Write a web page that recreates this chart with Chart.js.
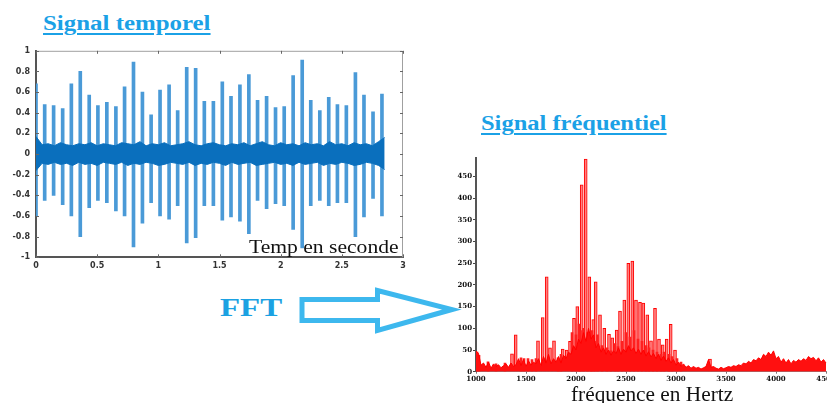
<!DOCTYPE html>
<html>
<head>
<meta charset="utf-8">
<script src="https://cdn.jsdelivr.net/npm/chart.js@4.4.1/dist/chart.umd.min.js"></script>
<style>
  body { margin: 0; width: 827px; height: 403px; overflow: hidden; background: #fff; position: relative; }
  canvas { position: absolute; }
  .txt { position: absolute; white-space: nowrap; transform-origin: 0 0; line-height: 1; }
  .titre { font: bold 20px "Liberation Serif", serif; color: #1ba1e6; text-decoration: underline;
           text-decoration-thickness: 2px; text-underline-offset: 3px; }
  .legende { font: 19px "Liberation Serif", serif; color: #111; }
  #fft { font: bold 26px "Liberation Serif", serif; color: #1ba1e2; }
</style>
</head>
<body>
<div class="txt titre" id="titreTemps" style="left:43px;top:12px">Signal temporel</div>
<div class="txt titre" id="titreFreq" style="left:481px;top:112px">Signal fréquentiel</div>
<div class="txt" id="fft" style="left:220px;top:293px">FFT</div>

<canvas id="graphTemps" width="415" height="240" style="left:0;top:40px"></canvas>
<canvas id="graphFreq" width="400" height="263" style="left:440px;top:140px"></canvas>

<div class="txt legende" id="legTemps" style="left:249px;top:236px">Temp en seconde</div>
<div class="txt legende" id="legFreq" style="left:571px;top:383px;font-size:20px">fréquence en Hertz</div>

<svg width="827" height="403" style="position:absolute;left:0;top:0">
  <polygon points="302,299.5 377.5,299.5 377.5,290.5 452,309.5 377.5,330.5 377.5,320.5 302,320.5"
           fill="#fff" stroke="#3db8ee" stroke-width="5" stroke-linejoin="miter"/>
</svg>

<script>
// --- signal temporel : pics (s, amplitude haute, amplitude basse)
const picsT = [0, 0.071, 0.144, 0.218, 0.289, 0.362, 0.435, 0.506, 0.579, 0.653,
  0.724, 0.797, 0.870, 0.941, 1.014, 1.088, 1.158, 1.232, 1.305, 1.376,
  1.450, 1.523, 1.594, 1.667, 1.740, 1.811, 1.885, 1.958, 2.029, 2.102,
  2.176, 2.246, 2.320, 2.393, 2.464, 2.537, 2.611, 2.681, 2.755, 2.828]
const picsHaut = [0.68, 0.48, 0.47, 0.44, 0.68, 0.80, 0.57, 0.47, 0.50, 0.46,
  0.65, 0.89, 0.60, 0.38, 0.62, 0.67, 0.42, 0.84, 0.83, 0.51,
  0.51, 0.70, 0.56, 0.67, 0.77, 0.52, 0.56, 0.45, 0.46, 0.76,
  0.91, 0.52, 0.42, 0.55, 0.48, 0.47, 0.79, 0.57, 0.41, 0.58]
const picsBas = [-0.60, -0.45, -0.40, -0.49, -0.60, -0.80, -0.52, -0.45, -0.47, -0.55,
  -0.60, -0.90, -0.67, -0.47, -0.60, -0.63, -0.50, -0.86, -0.81, -0.50,
  -0.50, -0.64, -0.61, -0.65, -0.77, -0.45, -0.53, -0.48, -0.50, -0.73,
  -0.91, -0.50, -0.45, -0.50, -0.47, -0.47, -0.80, -0.61, -0.43, -0.60]

// bruit de fond : enveloppe relevée toutes les 0.05 s
const pasBruit = 0.05
const bruitHaut = [0.17, 0.09, 0.10, 0.08, 0.11, 0.09, 0.08, 0.10, 0.09, 0.11,
  0.08, 0.10, 0.09, 0.08, 0.11, 0.10, 0.09, 0.12, 0.08, 0.10,
  0.09, 0.11, 0.08, 0.09, 0.10, 0.12, 0.09, 0.08, 0.10, 0.11,
  0.09, 0.08, 0.10, 0.09, 0.11, 0.08, 0.10, 0.12, 0.09, 0.08,
  0.11, 0.09, 0.10, 0.08, 0.11, 0.09, 0.10, 0.08, 0.12, 0.09,
  0.10, 0.08, 0.11, 0.09, 0.10, 0.08, 0.12, 0.16]
const bruitBas = [-0.16, -0.09, -0.10, -0.08, -0.10, -0.09, -0.11, -0.08, -0.10, -0.09,
  -0.11, -0.08, -0.09, -0.10, -0.08, -0.11, -0.09, -0.10, -0.08, -0.09,
  -0.11, -0.10, -0.08, -0.09, -0.10, -0.08, -0.11, -0.09, -0.10, -0.08,
  -0.09, -0.11, -0.08, -0.10, -0.09, -0.08, -0.11, -0.10, -0.09, -0.08,
  -0.10, -0.09, -0.11, -0.08, -0.10, -0.09, -0.08, -0.11, -0.09, -0.10,
  -0.08, -0.09, -0.11, -0.10, -0.08, -0.09, -0.11, -0.15]

// --- spectre : fond relevé tous les 25 Hz à partir de 1000 Hz
const freqDebut = 1000
const pasFreq = 25
const fondAmp = [
  48, 42, 15, 20,  10, 22, 8, 18,  12, 16, 9, 14,  18, 10, 20, 12,   // 1000-1375
  16, 30, 14, 28,  12, 25, 15, 22,  18, 30, 14, 35,  20, 40, 18, 30,  // 1400-1775
  22, 35, 20, 38,  30, 45, 40, 60,  50, 75, 65, 90,  70, 100, 75, 85, // 1800-2175
  55, 65, 45, 55,  40, 50, 38, 48,  42, 55, 40, 52,  45, 60, 48, 55,  // 2200-2575
  42, 52, 40, 50,  36, 46, 34, 42,  30, 40, 26, 36,  24, 32, 20, 28,  // 2600-2975
  15, 22, 12, 18,  10, 14, 8, 12,  8, 10, 6, 9,  12, 28, 10, 12,      // 3000-3375
  8, 6, 10, 7,  9, 12, 10, 14,  12, 16, 14, 20,  18, 24, 20, 28,      // 3400-3775
  25, 32, 28, 40,  35, 45, 38, 48,  30, 35, 22, 30,  20, 28, 18, 26,  // 3800-4175
  22, 28, 24, 30,  26, 35, 30, 33,  25, 32, 22, 28,  20               // 4200-4500
]
// raies principales (Hz, amplitude)
const raiesF = [1360, 1397, 1620, 1667, 1707, 1740, 1780, 1867, 1907, 1940,
  1980, 2013, 2057, 2097, 2133, 2173, 2197, 2240, 2283, 2330,
  2363, 2407, 2440, 2483, 2523, 2563, 2600, 2640, 2673, 2713,
  2750, 2790, 2830, 2867, 2907, 2947, 2990, 3340]
const raiesAmp = [41, 85, 71, 125, 219, 55, 71, 52, 50, 70,
  123, 150, 431, 490, 219, 120, 207, 131, 100, 86,
  78, 96, 140, 165, 250, 255, 165, 160, 158, 131,
  71, 146, 75, 62, 75, 109, 50, 29]
// raies secondaires plus fines
const raies2F = [1010, 1030, 1120, 1200, 1290, 1450, 1480, 1520, 1560, 1600,
  1820, 1850, 1960, 2000, 2030, 2045, 2075, 2115, 2150, 2160,
  2185, 2215, 2260, 2310, 2350, 2390, 2420, 2460, 2500, 2540,
  2580, 2620, 2660, 2700, 2730, 2770, 2810, 2850, 2880, 2930,
  2960, 3010, 3050]
const raies2Amp = [45, 38, 23, 18, 20, 32, 30, 30, 28, 30,
  32, 40, 90, 85, 110, 95, 100, 90, 80, 95,
  70, 85, 60, 55, 48, 65, 58, 70, 90, 80,
  95, 75, 70, 60, 55, 50, 45, 40, 45, 40,
  35, 30, 22]

// graduations des axes du spectre
const graduationsF = [1000, 1500, 2000, 2500, 3000, 3500, 4000, 4500]
const graduationsAmp = [0, 50, 100, 150, 200, 250, 300, 350, 400, 450]

// cadre façon Matlab : bord haut/droit clair + petites graduations intérieures
const cadre = {
  id: 'cadre',
  afterDraw(chart) {
    const { ctx, chartArea: a, scales } = chart
    ctx.save()
    ctx.strokeStyle = '#a0a0a0'
    ctx.lineWidth = 1
    ctx.beginPath()
    ctx.moveTo(a.left, a.top + 0.5)
    ctx.lineTo(a.right - 0.5, a.top + 0.5)
    ctx.lineTo(a.right - 0.5, a.bottom)
    ctx.stroke()
    ctx.strokeStyle = '#666'
    ctx.beginPath()
    scales.x.ticks.forEach(t => {
      const px = Math.round(scales.x.getPixelForValue(t.value)) + 0.5
      ctx.moveTo(px, a.top); ctx.lineTo(px, a.top + 3)
      ctx.moveTo(px, a.bottom); ctx.lineTo(px, a.bottom - 3)
    })
    scales.y.ticks.forEach(t => {
      const py = Math.round(scales.y.getPixelForValue(t.value)) + 0.5
      ctx.moveTo(a.left, py); ctx.lineTo(a.left + 3, py)
      ctx.moveTo(a.right, py); ctx.lineTo(a.right - 3, py)
    })
    ctx.stroke()
    ctx.restore()
  }
}

Chart.defaults.animation = false
Chart.defaults.devicePixelRatio = 1
Chart.defaults.plugins.legend.display = false
Chart.defaults.plugins.tooltip.enabled = false

const nombre = v => String(Math.round(v * 10) / 10)

const graphTemps = new Chart(document.getElementById('graphTemps'), {
  type: 'bar',
  data: {
    datasets: [
      {
        type: 'line',
        data: bruitHaut.map((v, i) => ({ x: i * pasBruit, y: v })),
        borderColor: '#0a6fbd',
        backgroundColor: '#0a6fbd',
        borderWidth: 1,
        pointRadius: 0,
        fill: '+1',
        order: 0
      },
      {
        type: 'line',
        data: bruitBas.map((v, i) => ({ x: i * pasBruit, y: v })),
        borderColor: '#0a6fbd',
        borderWidth: 1,
        pointRadius: 0,
        fill: false,
        order: 0
      },
      {
        data: picsT.map((t, i) => ({ x: t, y: [picsBas[i], picsHaut[i]] })),
        backgroundColor: '#4a9ad7',
        barThickness: 3,
        order: 1
      }
    ]
  },
  options: {
    responsive: false,
    layout: { padding: { top: 10.7, right: 12 } },
    scales: {
      x: {
        type: 'linear', min: 0, max: 3, offset: false,
        afterFit: s => { s.height = 22.7 },
        grid: { display: false, drawTicks: false, offset: false },
        border: { color: '#555', width: 2 },
        ticks: { stepSize: 0.5, padding: 4, color: '#333', callback: nombre,
                 font: { family: 'DejaVu Sans', size: 8, weight: 'bold' } }
      },
      y: {
        min: -1, max: 1,
        afterFit: s => { s.width = 36 },
        grid: { display: false, drawTicks: false },
        border: { color: '#555', width: 2 },
        ticks: { stepSize: 0.2, padding: 6, color: '#333', callback: nombre,
                 font: { family: 'DejaVu Sans', size: 8, weight: 'bold' } }
      }
    }
  },
  plugins: [cadre]
})

const graphFreq = new Chart(document.getElementById('graphFreq'), {
  type: 'bar',
  data: {
    datasets: [
      {
        type: 'line',
        data: fondAmp.map((v, i) => ({ x: freqDebut + i * pasFreq, y: v })),
        borderColor: '#ff0000',
        backgroundColor: '#ff1010',
        borderWidth: 1,
        pointRadius: 0,
        fill: 'origin',
        order: 0
      },
      {
        data: raies2F.map((f, i) => ({ x: f, y: raies2Amp[i] })),
        backgroundColor: '#ff2020',
        barThickness: 2,
        order: 1
      },
      {
        data: raiesF.map((f, i) => ({ x: f, y: raiesAmp[i] })),
        backgroundColor: '#ff8080',
        borderColor: '#ff0000',
        borderWidth: 1,
        barThickness: 3,
        order: 2
      }
    ]
  },
  options: {
    responsive: false,
    layout: { padding: { top: 18.3, right: 13 } },
    datasets: { bar: { grouped: false } },
    scales: {
      x: {
        type: 'linear', min: 1000, max: 4510, offset: false,
        afterFit: s => { s.height = 31.3 },
        afterBuildTicks: s => { s.ticks = graduationsF.map(v => ({ value: v })) },
        grid: { drawOnChartArea: false, offset: false, tickLength: 2, color: '#777' },
        border: { color: '#888', width: 1 },
        ticks: { padding: 1, color: '#111', maxRotation: 0, autoSkip: false,
                 callback: v => String(v),
                 font: { family: 'DejaVu Serif', size: 7, weight: 'bold' } }
      },
      y: {
        min: 0, max: 492,
        afterFit: s => { s.width = 36 },
        afterBuildTicks: s => { s.ticks = graduationsAmp.map(v => ({ value: v })) },
        grid: { drawOnChartArea: false, tickLength: 3, color: '#444' },
        border: { color: '#555', width: 2 },
        ticks: { padding: 1, color: '#111', callback: v => String(v),
                 font: { family: 'DejaVu Serif', size: 7, weight: 'bold' } }
      }
    }
  }
})

// ajuste la largeur des textes aux dimensions voulues
function ajuster(id, largeur) {
  const el = document.getElementById(id)
  el.style.transform = `scaleX(${largeur / el.offsetWidth})`
}
ajuster('titreTemps', 168)
ajuster('titreFreq', 186)
ajuster('fft', 62)
ajuster('legTemps', 150)
ajuster('legFreq', 162)
</script>
</body>
</html>
